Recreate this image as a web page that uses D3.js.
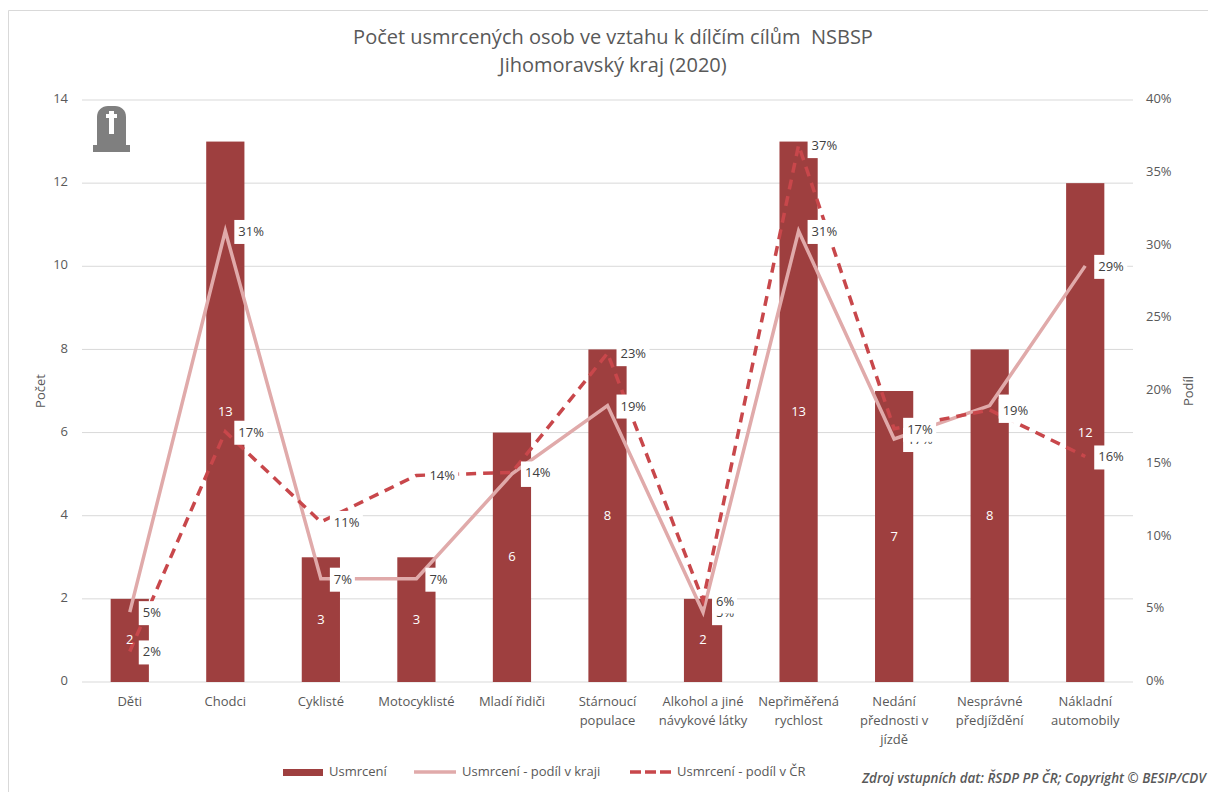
<!DOCTYPE html>
<html>
<head>
<meta charset="utf-8">
<script src="https://cdnjs.cloudflare.com/ajax/libs/d3/7.8.5/d3.min.js"></script>
<style>
    html, body { margin: 0; padding: 0; background: #fff; }
    svg { display: block; }
    text { font-family: "Open Sans", sans-serif; fill: #595959; }
</style>
</head>
<body>
<svg id="chart" width="1208" height="792"></svg>
<script>
const categories = [
    ['Děti'],
    ['Chodci'],
    ['Cyklisté'],
    ['Motocyklisté'],
    ['Mladí řidiči'],
    ['Stárnoucí', 'populace'],
    ['Alkohol a jiné', 'návykové látky'],
    ['Nepřiměřená', 'rychlost'],
    ['Nedání', 'přednosti v', 'jízdě'],
    ['Nesprávné', 'předjíždění'],
    ['Nákladní', 'automobily']
]
const deaths = [2, 13, 3, 3, 6, 8, 2, 13, 7, 8, 12]
const shareRegion = [4.8, 31, 7.1, 7.1, 14.3, 19, 4.8, 31, 16.7, 19, 28.6]
const shareCountry = [2.1, 17.2, 11, 14.2, 14.4, 22.6, 5.6, 36.9, 17.4, 18.7, 15.5]
const countTicks = [0, 2, 4, 6, 8, 10, 12, 14]
const shareTicks = [0, 5, 10, 15, 20, 25, 30, 35, 40]

const barColor = '#9e3f3f'
const regionColor = '#e0aaaa'
const countryColor = '#c8474b'
const gridColor = '#d9d9d9'
const fontSize = 13

const svg = d3.select('#chart')
const margin = { top: 100, right: 75, bottom: 110, left: 82 }
const width = +svg.attr('width')
const height = +svg.attr('height')

const x = d3.scaleBand()
    .domain(d3.range(categories.length))
    .range([margin.left, width - margin.right])
    .paddingInner(0.6)
    .paddingOuter(0.3)
const yCount = d3.scaleLinear().domain([0, 14]).range([height - margin.bottom, margin.top])
const yShare = d3.scaleLinear().domain([0, 40]).range([height - margin.bottom, margin.top])
const cx = i => x(i) + x.bandwidth() / 2

// chart frame, only top and left edges are in the screenshot
svg.append('path')
    .attr('d', `M8.5 ${height}V10.5H${width}`)
    .attr('fill', 'none')
    .attr('stroke', gridColor)

// title
svg.append('g')
    .selectAll('text')
    .data(['Počet usmrcených osob ve vztahu k dílčím cílům  NSBSP', 'Jihomoravský kraj (2020)'])
    .join('text')
    .attr('x', 613)
    .attr('y', (d, i) => 44 + i * 28)
    .attr('text-anchor', 'middle')
    .attr('font-size', 20)
    .style('white-space', 'pre')
    .text(d => d)

// grid
svg.append('g')
    .selectAll('line')
    .data(countTicks)
    .join('line')
    .attr('x1', margin.left)
    .attr('x2', width - margin.right)
    .attr('y1', d => yCount(d))
    .attr('y2', d => yCount(d))
    .attr('stroke', gridColor)
    .attr('stroke-width', 1)

// axes
const axisLeft = svg.append('g')
    .attr('transform', `translate(${margin.left},0)`)
    .call(d3.axisLeft(yCount).tickValues(countTicks).tickSize(0).tickPadding(14))
const axisRight = svg.append('g')
    .attr('transform', `translate(${width - margin.right},0)`)
    .call(d3.axisRight(yShare).tickValues(shareTicks).tickSize(0).tickPadding(13).tickFormat(d => d + '%'))
axisLeft.select('.domain').remove()
axisRight.select('.domain').remove()
svg.selectAll('.tick text')
    .attr('font-size', fontSize)
    .attr('font-family', '"Open Sans", sans-serif')
    .attr('dy', '0.2em')
    .style('fill', '#595959')

svg.append('text')
    .attr('transform', 'translate(45,391) rotate(-90)')
    .attr('text-anchor', 'middle')
    .attr('font-size', fontSize)
    .text('Počet')
svg.append('text')
    .attr('transform', 'translate(1193,391) rotate(-90)')
    .attr('text-anchor', 'middle')
    .attr('font-size', fontSize)
    .text('Podíl')

// category labels
svg.append('g')
    .selectAll('text')
    .data(categories)
    .join('text')
    .attr('text-anchor', 'middle')
    .attr('font-size', fontSize)
    .each(function (d, i) {
        d3.select(this).selectAll('tspan')
            .data(d)
            .join('tspan')
            .attr('x', cx(i))
            .attr('y', (_, k) => 706 + k * 19)
            .text(t => t)
    })

// bars
svg.append('g')
    .selectAll('rect')
    .data(deaths)
    .join('rect')
    .attr('x', (d, i) => x(i))
    .attr('y', d => yCount(d))
    .attr('width', x.bandwidth())
    .attr('height', d => yCount(0) - yCount(d))
    .attr('fill', barColor)

// lines
const line = d3.line()
    .x((d, i) => cx(i))
    .y(d => yShare(d))
svg.append('path')
    .datum(shareRegion)
    .attr('d', line)
    .attr('fill', 'none')
    .attr('stroke', regionColor)
    .attr('stroke-width', 3.5)
svg.append('path')
    .datum(shareCountry)
    .attr('d', line)
    .attr('fill', 'none')
    .attr('stroke', countryColor)
    .attr('stroke-width', 3.5)
    .attr('stroke-dasharray', '10 7')

// bar values
svg.append('g')
    .selectAll('text')
    .data(deaths)
    .join('text')
    .attr('x', (d, i) => cx(i))
    .attr('y', d => yCount(d / 2) + 4)
    .attr('text-anchor', 'middle')
    .attr('font-size', fontSize)
    .style('fill', '#fff')
    .text(d => d)

// percent labels, white boxes right of the points
function drawShareLabels(values) {
    const g = svg.append('g')
        .selectAll('g')
        .data(values)
        .join('g')
        .attr('transform', (d, i) => `translate(${cx(i) + 9},${yShare(d) + 1})`)
    g.append('rect')
        .attr('x', 0)
        .attr('y', -12)
        .attr('width', d => Math.round(d) >= 10 ? 33 : 25)
        .attr('height', 24)
        .attr('fill', '#fff')
    g.append('text')
        .attr('x', 4)
        .attr('y', 4)
        .attr('font-size', fontSize)
        .style('fill', '#404040')
        .text(d => Math.round(d) + '%')
}
drawShareLabels(shareRegion)
drawShareLabels(shareCountry)

// gravestone icon
const icon = svg.append('g').attr('transform', 'translate(93,105)').attr('fill', '#7f7f7f')
icon.append('path').attr('d', 'M4 40V12C4 5 9 1 15 1H22C28 1 33 5 33 12V40Z')
icon.append('rect').attr('x', 0).attr('y', 40).attr('width', 37).attr('height', 7)
icon.append('path').attr('fill', '#fff').attr('d', 'M16 6H21V9H24V13H21V29H16V13H13V9H16Z')

// legend
const legend = svg.append('g')
legend.append('rect').attr('x', 283).attr('y', 769).attr('width', 40).attr('height', 7).attr('fill', barColor)
legend.append('text').attr('x', 329).attr('y', 776).attr('font-size', fontSize).text('Usmrcení')
legend.append('line').attr('x1', 414).attr('x2', 456).attr('y1', 772).attr('y2', 772)
    .attr('stroke', regionColor).attr('stroke-width', 3.5)
legend.append('text').attr('x', 462).attr('y', 776).attr('font-size', fontSize).text('Usmrcení - podíl v kraji')
legend.append('line').attr('x1', 630).attr('x2', 671).attr('y1', 772).attr('y2', 772)
    .attr('stroke', countryColor).attr('stroke-width', 3.5).attr('stroke-dasharray', '11 4')
legend.append('text').attr('x', 677).attr('y', 776).attr('font-size', fontSize).text('Usmrcení - podíl v ČR')

svg.append('text')
    .attr('x', 1206)
    .attr('y', 783)
    .attr('text-anchor', 'end')
    .attr('font-size', 13.4)
    .attr('font-style', 'italic')
    .attr('font-weight', 600)
    .text('Zdroj vstupních dat: ŘSDP PP ČR; Copyright © BESIP/CDV')
</script>
</body>
</html>
